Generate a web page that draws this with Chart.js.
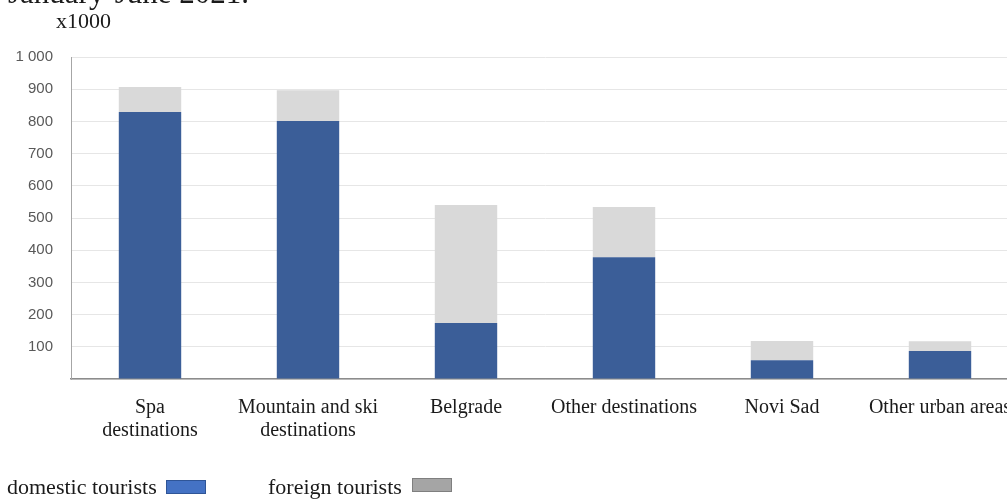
<!DOCTYPE html>
<html>
<head>
<meta charset="utf-8">
<script src="https://cdn.jsdelivr.net/npm/chart.js@4/dist/chart.umd.min.js"></script>
<style>
  html, body { margin: 0; padding: 0; background: #fff; overflow: hidden; width: 1007px; height: 499px; }
  #wrap { position: relative; width: 1007px; height: 499px; overflow: hidden; }
  canvas { position: absolute; left: 0; top: 0; }
  .txt { position: absolute; font-family: "Liberation Serif", serif; color: #1a1a1a; white-space: nowrap; }
  .box { position: absolute; width: 38px; height: 12px; }
</style>
</head>
<body>
<div id="wrap">
  <canvas id="myChart" width="1030" height="499"></canvas>
  <div class="txt" style="left:8px; top:-23px; font-size:31px; line-height:31px;">January-June 2021.</div>
  <div class="txt" style="left:56px; top:10px; font-size:22px; line-height:22px;">x1000</div>
  <div class="txt" style="left:7px; top:476px; font-size:22px; line-height:22px;">domestic tourists</div>
  <div class="box" style="left:166px; top:480px; background:#4472c4; border:1px solid #2f5597;"></div>
  <div class="txt" style="left:268px; top:476px; font-size:22px; line-height:22px;">foreign tourists</div>
  <div class="box" style="left:412px; top:478px; background:#a5a5a5; border:1px solid #7f7f7f;"></div>
</div>
<script>
// values in thousands
const categories = [
  ['Spa', 'destinations'],
  ['Mountain and ski', 'destinations'],
  'Belgrade',
  'Other destinations',
  'Novi Sad',
  'Other urban areas'
];
const domestic = [829, 801, 174, 378, 58, 87];
const foreign = [78, 96, 366, 156, 60, 30];
const yTicks = [100, 200, 300, 400, 500, 600, 700, 800, 900, 1000];

const fmt = v => String(v).replace(/\B(?=(\d{3})+(?!\d))/g, ' ');

let ctx = document.getElementById('myChart').getContext('2d');
let chart = new Chart(ctx, {
  type: 'bar',
  data: {
    labels: categories,
    datasets: [
      { label: 'domestic tourists', data: domestic, backgroundColor: '#3b5e98' },
      { label: 'foreign tourists', data: foreign, backgroundColor: '#d9d9d9' },
    ]
  },
  options: {
    responsive: false,
    animation: false,
    layout: { padding: { left: 0, top: 57, right: 11, bottom: 0 } },
    datasets: { bar: { categoryPercentage: 1, barPercentage: 0.395 } },
    plugins: { legend: { display: false }, tooltip: { enabled: false } },
    scales: {
      x: {
        stacked: true,
        grid: { display: false, drawTicks: false },
        border: { color: '#8c8c8c', width: 1.5 },
        ticks: {
          color: '#1a1a1a',
          padding: 17,
          maxRotation: 0,
          autoSkip: false,
          font: { family: 'Liberation Serif', size: 20, lineHeight: 1.15 }
        },
        afterFit: s => { s.height = 120; }
      },
      y: {
        stacked: true,
        min: 0,
        max: 1000,
        afterBuildTicks: s => { s.ticks = [0].concat(yTicks).map(v => ({ value: v })); },
        grid: { color: '#e6e6e6', drawTicks: false },
        border: { color: '#a6a6a6' },
        ticks: {
          color: '#595959',
          padding: 18,
          font: { family: 'Liberation Sans', size: 15 },
          callback: v => v === 0 ? '' : fmt(v)
        },
        afterFit: s => { s.width = 71; }
      }
    }
  }
});
</script>
</body>
</html>
